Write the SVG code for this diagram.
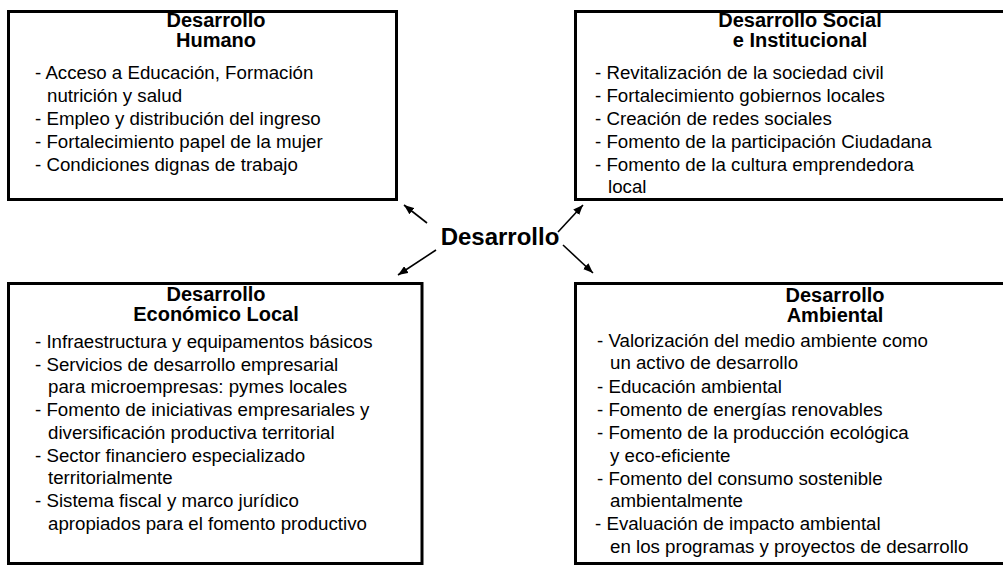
<svg xmlns="http://www.w3.org/2000/svg" width="1003" height="565" viewBox="0 0 1003 565">
<style>
.box{fill:#fff;stroke:#000;stroke-width:3}
.t{font-family:"Liberation Sans",Arial,sans-serif;font-weight:bold;font-size:20px;text-anchor:middle;fill:#000}
.b{font-family:"Liberation Sans",Arial,sans-serif;font-size:18.7px;fill:#000}
.c{font-family:"Liberation Sans",Arial,sans-serif;font-weight:bold;font-size:24px;text-anchor:middle;fill:#000}
.a{stroke:#000;stroke-width:1.6;fill:none;marker-end:url(#ah)}
</style>
<defs>
<marker id="ah" viewBox="0 0 10 8" refX="10" refY="4" markerWidth="10" markerHeight="8" markerUnits="userSpaceOnUse" orient="auto">
<path d="M0,0 L10,4 L0,8 Z" fill="#000"/>
</marker>
</defs>
<rect width="1003" height="565" fill="#fff"/>
<g id="humano">
<rect class="box" x="8.5" y="11.5" width="388" height="188"/>
<text class="t" x="216" y="27">Desarrollo</text>
<text class="t" x="216" y="47">Humano</text>
<text class="b" x="35" y="79">- Acceso a Educación, Formación</text>
<text class="b" x="47" y="102">nutrición y salud</text>
<text class="b" x="35" y="125">- Empleo y distribución del ingreso</text>
<text class="b" x="35" y="148">- Fortalecimiento papel de la mujer</text>
<text class="b" x="35" y="171">- Condiciones dignas de trabajo</text>
</g>
<g id="social">
<rect class="box" x="575.5" y="11.5" width="440" height="188"/>
<text class="t" x="800" y="27">Desarrollo Social</text>
<text class="t" x="800" y="47">e Institucional</text>
<text class="b" x="595" y="79">- Revitalización de la sociedad civil</text>
<text class="b" x="595" y="102">- Fortalecimiento gobiernos locales</text>
<text class="b" x="595" y="125">- Creación de redes sociales</text>
<text class="b" x="595" y="148">- Fomento de la participación Ciudadana</text>
<text class="b" x="595" y="171">- Fomento de la cultura emprendedora</text>
<text class="b" x="608" y="193">local</text>
</g>
<g id="economico">
<rect class="box" x="8.5" y="283.5" width="413.5" height="280"/>
<text class="t" x="216" y="301">Desarrollo</text>
<text class="t" x="216" y="321">Económico Local</text>
<text class="b" x="35" y="348">- Infraestructura y equipamentos básicos</text>
<text class="b" x="35" y="371">- Servicios de desarrollo empresarial</text>
<text class="b" x="48" y="393">para microempresas: pymes locales</text>
<text class="b" x="35" y="416">- Fomento de iniciativas empresariales y</text>
<text class="b" x="48" y="439">diversificación productiva territorial</text>
<text class="b" x="35" y="462">- Sector financiero especializado</text>
<text class="b" x="48" y="484">territorialmente</text>
<text class="b" x="35" y="507">- Sistema fiscal y marco jurídico</text>
<text class="b" x="48" y="530">apropiados para el fomento productivo</text>
</g>
<g id="ambiental">
<rect class="box" x="575.5" y="283.5" width="440" height="280"/>
<text class="t" x="835" y="302">Desarrollo</text>
<text class="t" x="835" y="322">Ambiental</text>
<text class="b" x="597" y="347">- Valorización del medio ambiente como</text>
<text class="b" x="610" y="369">un activo de desarrollo</text>
<text class="b" x="597" y="393">- Educación ambiental</text>
<text class="b" x="597" y="416">- Fomento de energías renovables</text>
<text class="b" x="597" y="439">- Fomento de la producción ecológica</text>
<text class="b" x="610" y="462">y eco-eficiente</text>
<text class="b" x="597" y="485">- Fomento del consumo sostenible</text>
<text class="b" x="610" y="507">ambientalmente</text>
<text class="b" x="595" y="530">- Evaluación de impacto ambiental</text>
<text class="b" x="610" y="553">en los programas y proyectos de desarrollo</text>
</g>
<g id="centro">
<text class="c" x="500" y="245">Desarrollo</text>
</g>
<g id="connectors">
<line class="a" x1="427" y1="223" x2="404" y2="205"/>
<line class="a" x1="558" y1="232" x2="583" y2="205"/>
<line class="a" x1="436" y1="250" x2="398" y2="275"/>
<line class="a" x1="563" y1="245" x2="593" y2="273"/>
</g>
</svg>
